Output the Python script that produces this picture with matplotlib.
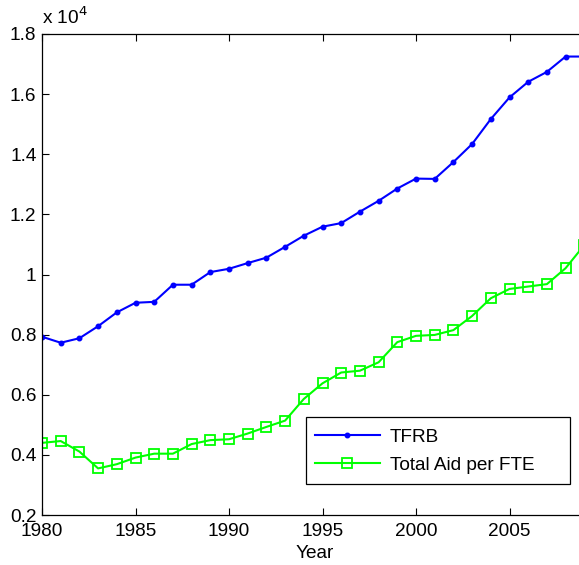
import numpy as np
import matplotlib
matplotlib.use('Agg')
import matplotlib.pyplot as plt
from matplotlib.patches import Rectangle

plt.rcParams['font.family'] = ['Liberation Sans', 'DejaVu Sans']

years = list(range(1980, 2010))
tfrb = [7930, 7730, 7880, 8280, 8740, 9060, 9090, 9660, 9660, 10080,
        10190, 10380, 10560, 10920, 11290, 11590, 11710, 12090, 12450, 12860,
        13190, 13180, 13740, 14340, 15170, 15890, 16410, 16740, 17250, 17250]
aid_fte = [4400, 4460, 4110, 3550, 3690, 3910, 4040, 4040, 4360, 4490,
           4520, 4710, 4930, 5140, 5860, 6380, 6740, 6800, 7080, 7750,
           7960, 7990, 8150, 8620, 9210, 9520, 9600, 9680, 10210, 10980]
series_names = ['TFRB', 'Total Aid per FTE']
ytick_vals = [0.2, 0.4, 0.6, 0.8, 1.0, 1.2, 1.4, 1.6, 1.8]
ytick_labels = ['0.2', '0.4', '0.6', '0.8', '1', '1.2', '1.4', '1.6', '1.8']
xtick_vals = [1980, 1985, 1990, 1995, 2000, 2005]

FS = 13.7
W, H = 579, 565
fig = plt.figure(figsize=(W / 100, H / 100), dpi=100)
# axes run past the right edge of the picture (cropped in the original)
ax = fig.add_axes([42 / W, 1 - 515 / H, 561 / W, 481 / H])

yr = np.array(years)
ax.plot(yr, np.array(tfrb) / 1e4, color=(0, 0, 1), lw=1.5, marker='.',
        markersize=6.5, label=series_names[0])
ax.plot(yr, np.array(aid_fte) / 1e4, color=(0, 1, 0), lw=1.5, marker='s',
        markersize=7, markerfacecolor='none', markeredgewidth=1.3,
        label=series_names[1])

ax.set_xlim(1980, 2010)
ax.set_ylim(0.2, 1.8)
ax.set_xticks(xtick_vals)
ax.set_yticks(ytick_vals)
ax.set_yticklabels(ytick_labels)
ax.tick_params(direction='in', length=5, width=0.8, labelsize=FS,
               top=True, right=True)
ax.tick_params(axis='x', pad=6)
ax.tick_params(axis='y', pad=4)
for s in ax.spines.values():
    s.set_linewidth(0.9)

fig.text(315 / W, 1 - 553 / H, 'Year', ha='center', va='center', fontsize=FS)
ax.text(0.0, 1.012, 'x 10$^{4}$', transform=ax.transAxes, ha='left',
        va='bottom', fontsize=FS)

# matlab-style legend box: wider than its contents
box = Rectangle((306 / W, 1 - 484 / H), 264 / W, 67 / H,
                transform=fig.transFigure, facecolor='white',
                edgecolor='black', lw=0.9, zorder=4)
ax.add_patch(box)
box.set_clip_on(False)
leg = ax.legend(loc='upper left', bbox_to_anchor=(306 / W, 1 - 420 / H),
                bbox_transform=fig.transFigure, fontsize=FS, handlelength=3.45,
                handletextpad=0.5, frameon=False, borderpad=0.45,
                labelspacing=0.57, borderaxespad=0)
leg.set_zorder(5)

fig.savefig('out.png', dpi=100)
